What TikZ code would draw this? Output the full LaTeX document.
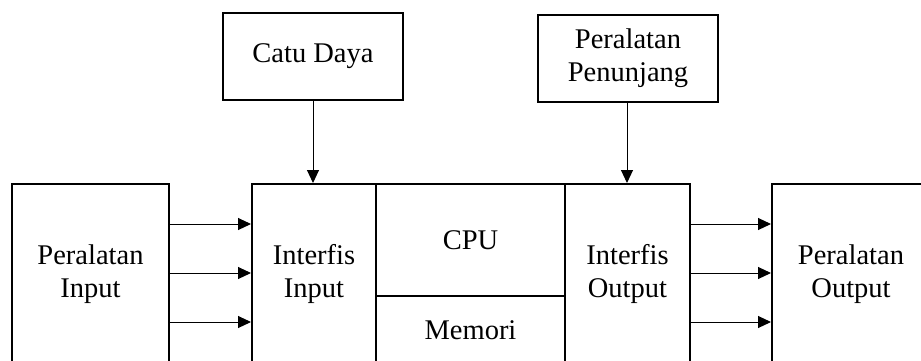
\documentclass[tikz,border=0pt]{standalone}
\usepackage{fontspec}
\setmainfont{Liberation Serif}
\usetikzlibrary{arrows.meta}
\begin{document}
\begin{tikzpicture}[x=1pt,y=-1pt,
  blk/.style={draw, line width=2pt, inner sep=0pt, align=center, font=\fontsize{28.5}{33}\selectfont},
  arr/.style={line width=1pt, -{Triangle[length=13pt,width=12pt]}}]
\useasboundingbox (0,0) rectangle (921,360);
\clip (0,0) rectangle (921,360);
% boxes: (x1,y1)-(x2,y2) in image pixels
\node[blk, minimum width=157pt, minimum height=180pt] (pin) at (90.5,274) {Peralatan\\Input};
\node[blk, minimum width=124pt, minimum height=180pt] (iin) at (314,274) {Interfis\\Input};
\node[blk, minimum width=189pt, minimum height=112pt] (cpu) at (470.5,240) {CPU};
\node[blk, minimum width=189pt, minimum height=68pt] (mem) at (470.5,330) {Memori};
\node[blk, minimum width=125pt, minimum height=180pt] (iout) at (627.5,274) {Interfis\\Output};
\node[blk, minimum width=158pt, minimum height=180pt] (pout) at (851,274) {Peralatan\\Output};
\node[blk, minimum width=180pt, minimum height=87pt] (catu) at (313,56.5) {Catu Daya};
\node[blk, minimum width=180pt, minimum height=87pt] (pen) at (628,58.5) {Peralatan\\Penunjang};
% arrows
\foreach \s in {50,1,-48} {
  \draw[arr] ([yshift=\s pt]pin.east) -- ([yshift=\s pt]iin.west);
  \draw[arr] ([yshift=\s pt]iout.east) -- ([yshift=\s pt]pout.west);
}
\draw[arr] (catu.south) -- (catu.south |- iin.north);
\draw[arr] ([xshift=-1pt]pen.south) -- ([xshift=-1pt]pen.south |- iout.north);
\end{tikzpicture}
\end{document}
